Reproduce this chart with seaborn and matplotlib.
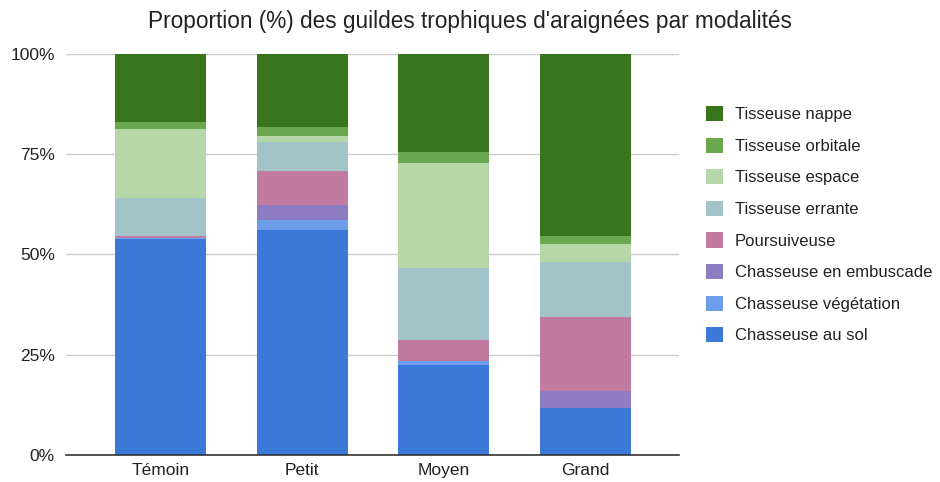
import numpy as np
import pandas as pd
import matplotlib
matplotlib.use("Agg")
import matplotlib.pyplot as plt
from matplotlib.patches import Patch
import seaborn as sns

# Modalities (x axis)
modalites = ["Témoin", "Petit", "Moyen", "Grand"]

# Trophic guilds, from the bottom of each stack to the top
guildes = [
    "Chasseuse au sol",
    "Chasseuse végétation",
    "Chasseuse en embuscade",
    "Poursuiveuse",
    "Tisseuse errante",
    "Tisseuse espace",
    "Tisseuse orbitale",
    "Tisseuse nappe",
]

# Proportions (%) per guild, one value per modality
chasseuse_sol = [53.8, 56.1, 22.4, 11.8]
chasseuse_vegetation = [0.2, 2.5, 1.0, 0.0]
chasseuse_embuscade = [0.0, 3.7, 0.0, 4.2]
poursuiveuse = [0.5, 8.6, 5.3, 18.5]
tisseuse_errante = [9.5, 7.2, 18.0, 13.6]
tisseuse_espace = [17.2, 1.5, 26.2, 4.5]
tisseuse_orbitale = [1.9, 2.3, 2.6, 2.0]
tisseuse_nappe = [16.9, 18.1, 24.5, 45.4]

couleurs = ["#3c78d8", "#6d9eeb", "#8e7cc3", "#c27ba0",
            "#a2c4c9", "#b6d7a8", "#6aa84f", "#38761d"]

valeurs = [chasseuse_sol, chasseuse_vegetation, chasseuse_embuscade,
           poursuiveuse, tisseuse_errante, tisseuse_espace,
           tisseuse_orbitale, tisseuse_nappe]

df = pd.DataFrame(np.array(valeurs).T, columns=guildes)
cumul = df.cumsum(axis=1)
cumul["Modalité"] = modalites

sns.set_theme(style="white")
plt.rcParams["font.family"] = ["Liberation Sans", "DejaVu Sans"]

fig = plt.figure(figsize=(9.4, 4.82), dpi=100)
ax = fig.add_axes([66 / 940, 27 / 482, 613 / 940, 401 / 482])

# Stacked bars: draw cumulative totals from the top layer down
for guilde, couleur in reversed(list(zip(guildes, couleurs))):
    sns.barplot(data=cumul, x="Modalité", y=guilde, color=couleur,
                width=0.643, saturation=1, linewidth=0, ax=ax, zorder=3)

ax.set_xlim(-0.668, 3.664)
ax.set_ylim(0, 100)
ax.set_yticks([0, 25, 50, 75, 100])
ax.set_yticklabels(["0%", "25%", "50%", "75%", "100%"])
ax.yaxis.grid(True, color="#cccccc", linewidth=1, zorder=0)
ax.set_axisbelow(True)
for s in ["top", "right", "left"]:
    ax.spines[s].set_visible(False)
ax.spines["bottom"].set_color("#333333")
ax.spines["bottom"].set_linewidth(1.2)
ax.spines["bottom"].set_zorder(5)
ax.tick_params(axis="both", length=0, labelsize=12.5, colors="#222222")
ax.tick_params(axis="y", pad=8)
ax.tick_params(axis="x", pad=6)
ax.set_xlabel("")
ax.set_ylabel("")

fig.suptitle("Proportion (%) des guildes trophiques d'araignées par modalités",
             x=0.5, y=0.98, fontsize=16.3, color="#222222")

handles = [Patch(facecolor=c, edgecolor="none", label=g)
           for g, c in reversed(list(zip(guildes, couleurs)))]
fig.legend(handles=handles, loc="upper left",
           bbox_to_anchor=(706 / 940, 1 - 106 / 482),
           frameon=False, borderpad=0, borderaxespad=0,
           handlelength=1.02, handleheight=1.02, handletextpad=0.72,
           labelspacing=0.92, fontsize=12, labelcolor="#222222")

fig.savefig("out.png", dpi=100)
